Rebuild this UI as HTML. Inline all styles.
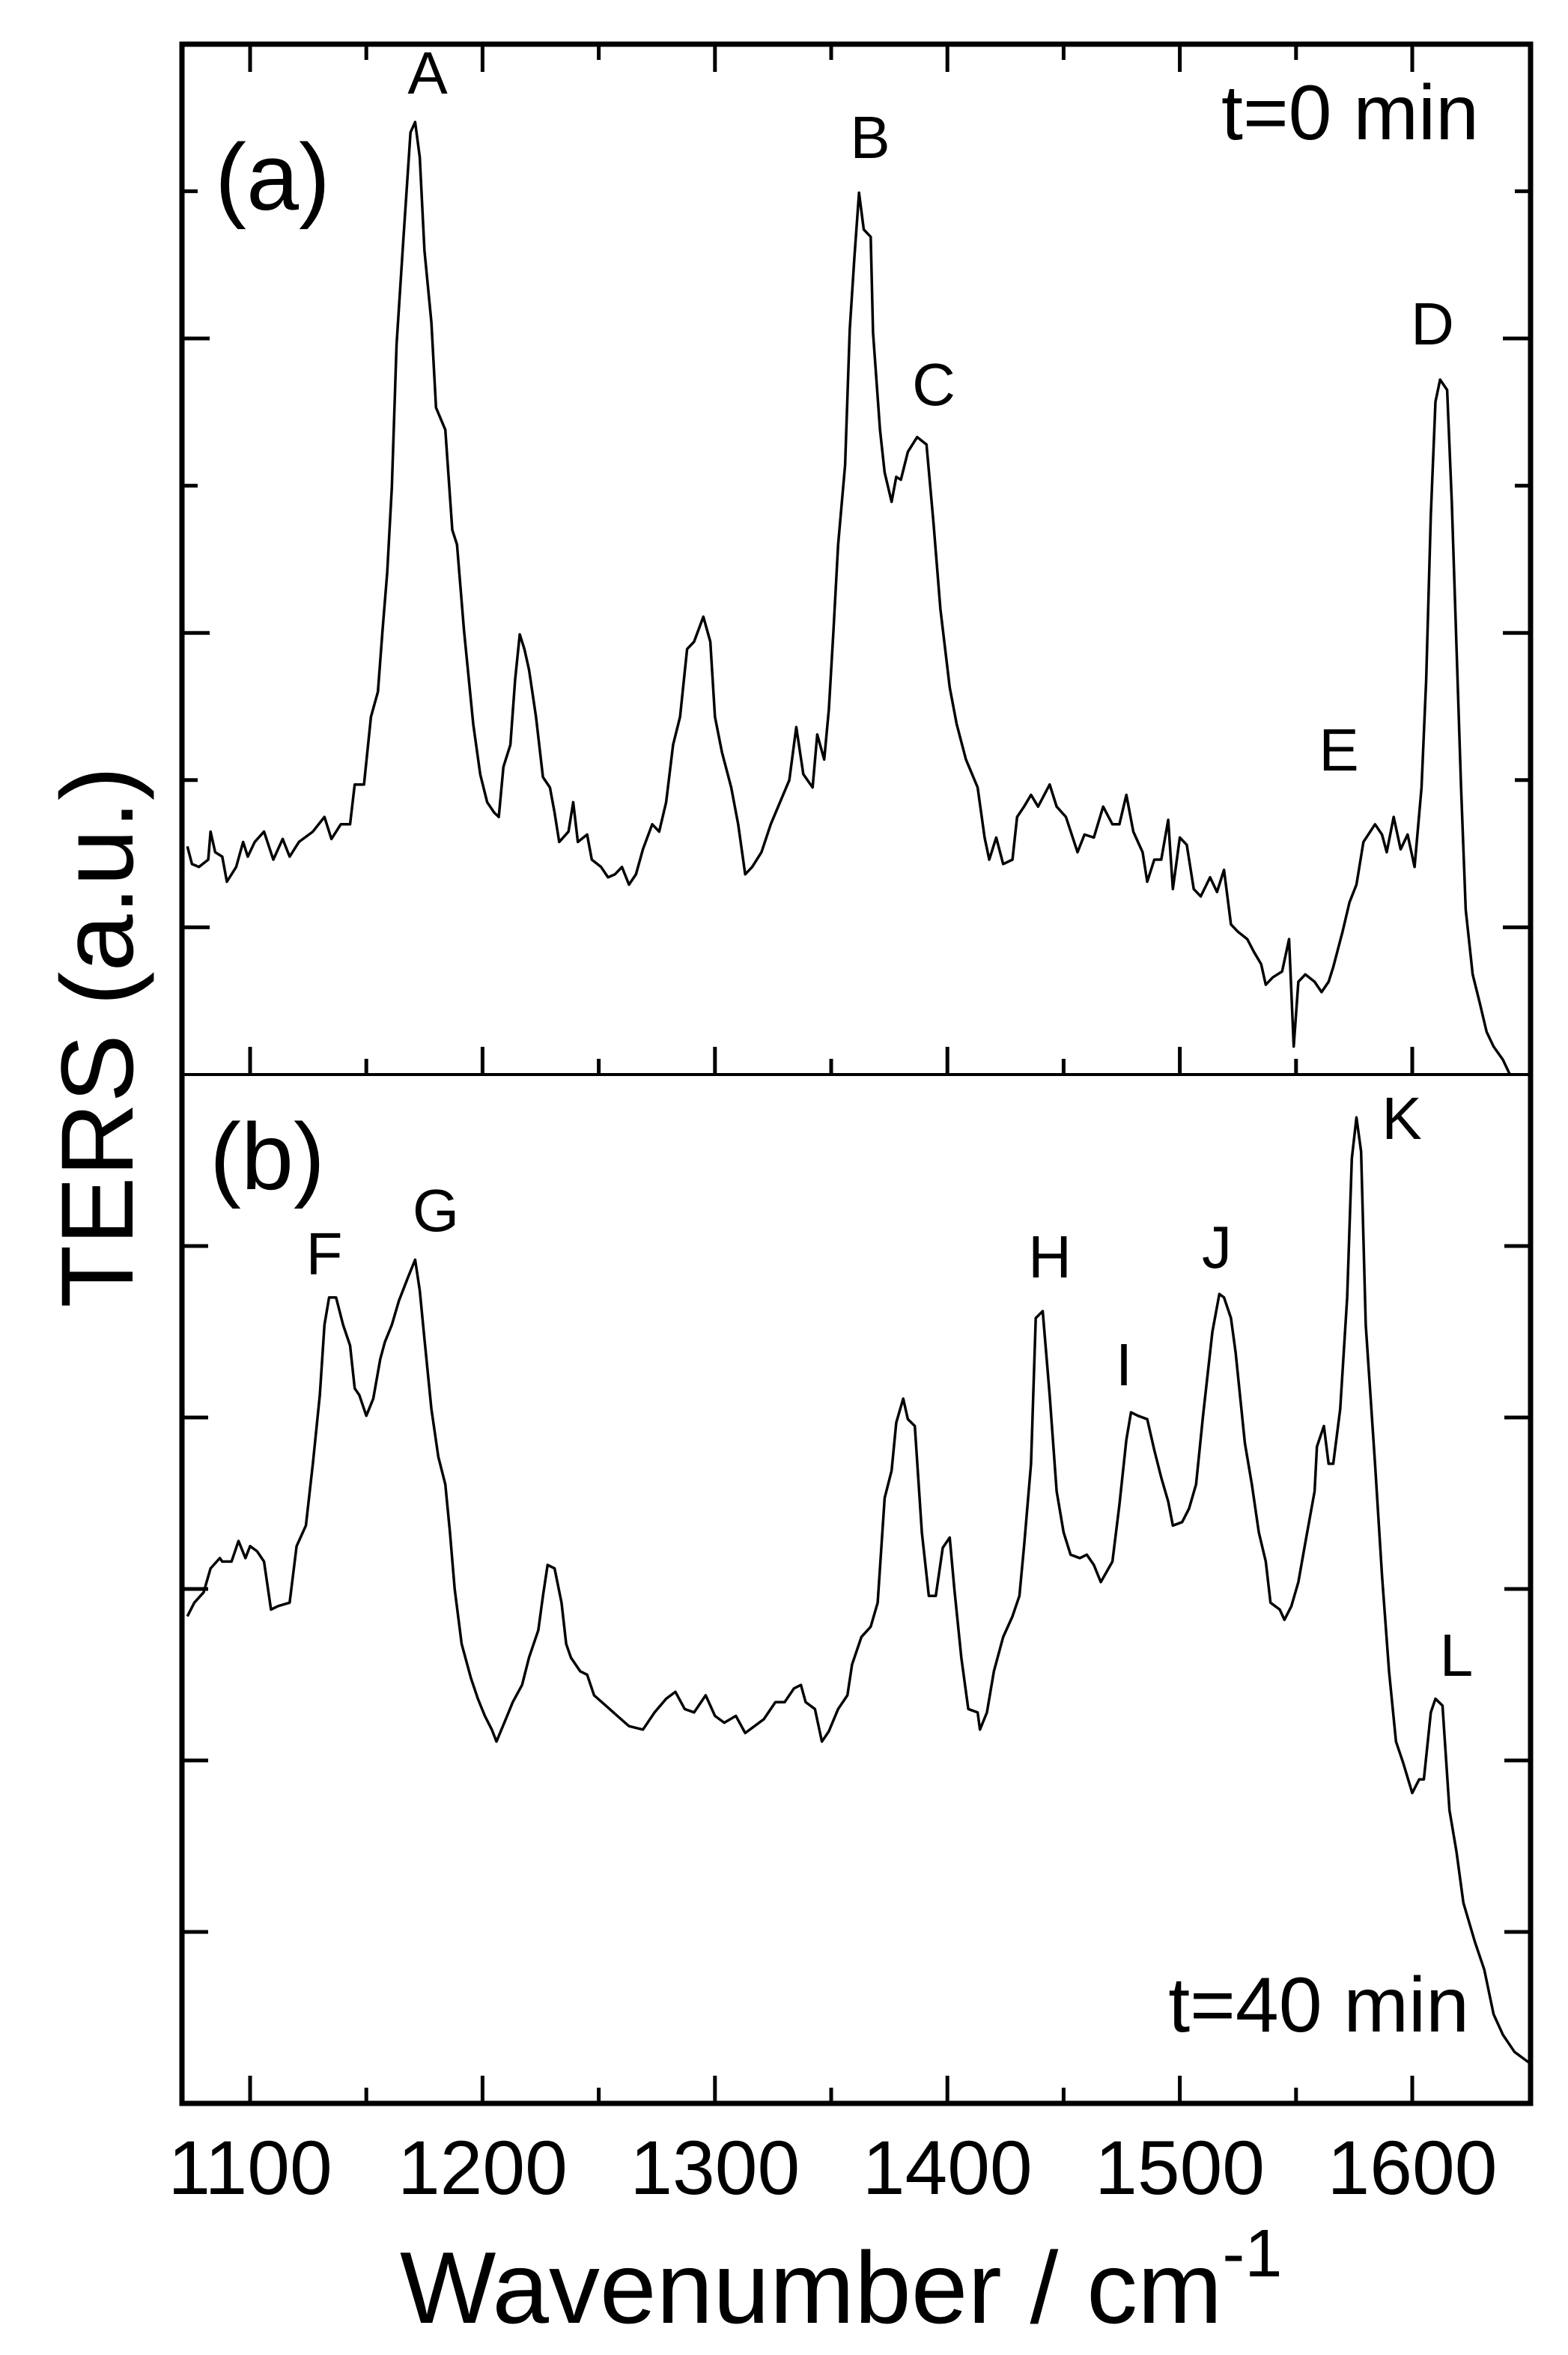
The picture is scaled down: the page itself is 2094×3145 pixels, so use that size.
<!DOCTYPE html>
<html><head><meta charset="utf-8"><style>
html,body{margin:0;padding:0;background:#fff;}
svg{display:block;}
text{font-family:"Liberation Sans",sans-serif;fill:#000;}
</style></head><body>
<svg id="chart" width="2094" height="3145" viewBox="0 0 2094 3145" xmlns="http://www.w3.org/2000/svg">
<g id="axes"></g>
<g id="series"></g>
<g id="labels">
<text x="364" y="280" font-size="126" text-anchor="middle">(a)</text>
<text x="357" y="1588" font-size="126" text-anchor="middle">(b)</text>
<text x="1975" y="186" font-size="104" text-anchor="end">t=0 min</text>
<text x="1962" y="2713" font-size="104" text-anchor="end">t=40 min</text>
<text transform="translate(177,1385) rotate(-90)" font-size="137" text-anchor="middle">TERS (a.u.)</text>
<text x="534" y="3102" font-size="136">Wavenumber / cm<tspan font-size="90" dy="-62">-1</tspan></text>
</g>
</svg>
<script>
const wnA=[1073,1075,1078,1082,1083,1085,1088,1090,1094,1097,1099,1102,1106,1110,1114,1117,1121,1127,1132,1135,1139,1143,1145,1149,1152,1155,1157,1159,1161,1163,1166,1169,1171,1173,1175,1178,1180,1184,1187,1189,1192,1196,1199,1202,1205,1207,1209,1212,1214,1216,1218,1220,1223,1226,1229,1231,1233,1237,1239,1241,1245,1247,1251,1254,1257,1260,1263,1266,1269,1273,1276,1279,1282,1285,1288,1291,1295,1298,1300,1303,1307,1310,1313,1316,1320,1324,1328,1332,1335,1338,1342,1344,1347,1349,1351,1353,1356,1358,1360,1362,1364,1367,1368,1371,1373,1376,1378,1380,1383,1387,1391,1394,1397,1401,1404,1408,1413,1416,1418,1421,1424,1428,1430,1433,1436,1439,1444,1447,1451,1456,1459,1463,1467,1471,1474,1477,1480,1484,1486,1489,1492,1495,1497,1500,1503,1506,1509,1513,1516,1519,1522,1525,1529,1532,1535,1537,1540,1544,1547,1549,1551,1554,1558,1561,1564,1566,1570,1573,1576,1579,1584,1587,1589,1592,1595,1598,1601,1604,1606,1608,1610,1612,1615,1617,1619,1621,1623,1626,1629,1632,1635,1639,1642];
const valA=[1.55,1.43,1.41,1.46,1.65,1.51,1.48,1.31,1.41,1.58,1.48,1.58,1.65,1.46,1.60,1.48,1.58,1.65,1.75,1.60,1.70,1.70,1.97,1.97,2.43,2.60,3.02,3.41,3.99,4.96,5.69,6.40,6.47,6.23,5.60,5.11,4.53,4.38,3.70,3.60,3.02,2.38,2.04,1.85,1.78,1.75,2.09,2.24,2.68,2.99,2.89,2.75,2.43,2.02,1.95,1.78,1.58,1.65,1.85,1.58,1.63,1.46,1.41,1.34,1.36,1.41,1.29,1.36,1.53,1.70,1.65,1.85,2.24,2.43,2.89,2.94,3.11,2.94,2.43,2.19,1.95,1.70,1.36,1.41,1.51,1.70,1.85,2.00,2.36,2.04,1.95,2.31,2.14,2.48,3.02,3.60,4.14,5.06,5.55,5.99,5.74,5.69,5.04,4.38,4.09,3.89,4.06,4.04,4.23,4.33,4.28,3.75,3.16,2.63,2.38,2.14,1.95,1.61,1.46,1.61,1.43,1.46,1.75,1.82,1.90,1.82,1.97,1.82,1.75,1.51,1.63,1.61,1.82,1.70,1.70,1.90,1.65,1.51,1.31,1.46,1.46,1.73,1.26,1.61,1.56,1.26,1.21,1.34,1.24,1.39,1.02,0.97,0.92,0.83,0.75,0.61,0.66,0.70,0.92,0.19,0.63,0.68,0.63,0.56,0.63,0.73,0.97,1.17,1.29,1.58,1.70,1.63,1.51,1.75,1.53,1.63,1.41,1.95,2.68,3.80,4.57,4.72,4.65,3.89,2.92,1.95,1.12,0.68,0.49,0.29,0.19,0.10,0.0];
const wnB=[1073,1076,1080,1083,1087,1088,1092,1095,1098,1100,1103,1106,1109,1112,1117,1120,1124,1127,1130,1132,1134,1137,1140,1143,1145,1147,1150,1153,1156,1158,1161,1164,1168,1171,1173,1175,1178,1181,1184,1186,1188,1191,1195,1198,1201,1204,1206,1210,1213,1217,1220,1224,1226,1228,1231,1234,1236,1238,1242,1245,1248,1253,1258,1263,1269,1274,1279,1283,1287,1291,1296,1300,1304,1309,1313,1317,1321,1326,1330,1334,1337,1339,1343,1346,1349,1353,1357,1359,1363,1367,1370,1373,1376,1378,1381,1383,1386,1389,1392,1395,1398,1401,1403,1406,1409,1413,1414,1417,1420,1424,1428,1431,1433,1436,1438,1441,1444,1447,1450,1453,1457,1460,1463,1466,1471,1474,1477,1479,1482,1486,1489,1492,1495,1497,1501,1504,1507,1510,1514,1517,1519,1522,1524,1528,1531,1534,1537,1539,1543,1545,1548,1551,1554,1558,1559,1562,1564,1566,1569,1572,1574,1576,1578,1580,1584,1587,1590,1593,1596,1600,1603,1605,1608,1610,1613,1616,1619,1622,1627,1631,1635,1639,1644,1650];
const valB=[2.84,2.92,2.98,3.12,3.18,3.16,3.16,3.28,3.18,3.25,3.22,3.16,2.88,2.90,2.92,3.25,3.37,3.73,4.13,4.54,4.70,4.70,4.54,4.42,4.17,4.13,4.01,4.11,4.34,4.44,4.54,4.68,4.82,4.92,4.74,4.46,4.05,3.77,3.61,3.33,3.00,2.68,2.48,2.36,2.26,2.18,2.11,2.24,2.34,2.44,2.60,2.76,2.96,3.14,3.12,2.92,2.68,2.60,2.52,2.50,2.38,2.32,2.26,2.20,2.18,2.28,2.36,2.40,2.30,2.28,2.38,2.26,2.22,2.26,2.16,2.20,2.24,2.34,2.34,2.42,2.44,2.34,2.30,2.11,2.17,2.30,2.38,2.56,2.72,2.78,2.92,3.53,3.69,3.97,4.11,3.99,3.95,3.33,2.96,2.96,3.24,3.30,3.00,2.60,2.30,2.28,2.18,2.28,2.52,2.72,2.84,2.96,3.25,3.73,4.58,4.62,4.13,3.57,3.33,3.20,3.18,3.20,3.14,3.04,3.16,3.49,3.87,4.03,4.01,3.99,3.81,3.65,3.51,3.37,3.39,3.47,3.61,4.01,4.50,4.72,4.70,4.58,4.38,3.85,3.61,3.33,3.16,2.92,2.88,2.82,2.90,3.04,3.27,3.57,3.83,3.95,3.73,3.73,4.05,4.70,5.51,5.75,5.55,4.54,3.73,3.08,2.52,2.11,1.99,1.81,1.89,1.89,2.28,2.36,2.32,1.71,1.47,1.17,0.94,0.78,0.52,0.40,0.30,0.24];
const xTickVals=[1100,1150,1200,1250,1300,1350,1400,1450,1500,1550,1600];
const xTickLabels=["1100","1200","1300","1400","1500","1600"];
const yTicksA=[1,2,3,4,5,6];
const yTicksB=[1,2,3,4,5];
const peakLabels=["A","B","C","D","E","F","G","H","I","J","K","L"];

const NS="http://www.w3.org/2000/svg";
const L=243,R=2044,TOP=59,MID=1435,BOT=2809;
function X(w){return 334+(w-1100)*3.104;}
function YA(v){return MID-v*196.6;}
function YB(v){return BOT-v*229;}
const axes=document.getElementById('axes');
const series=document.getElementById('series');
const labels=document.getElementById('labels');
function mk(tag,attrs,parent){const e=document.createElementNS(NS,tag);for(const k in attrs)e.setAttribute(k,attrs[k]);parent.appendChild(e);return e;}

let f=mk('rect',{x:L,y:TOP,width:R-L,height:BOT-TOP,fill:'none',stroke:'#000','stroke-width':7},axes);


let d=mk('line',{x1:L,x2:R,y1:MID,y2:MID,stroke:'#000','stroke-width':4},axes);



xTickVals.forEach(w=>{
  const len=(w%100===0)?37:21;
  [[TOP,1],[MID,-1],[BOT,-1]].forEach(([y,dir])=>{
    const t=mk('line',{x1:X(w),x2:X(w),y1:y,y2:y+dir*len,stroke:'#000','stroke-width':5},axes);
    
    
  });
});
xTickLabels.forEach(s=>{
  const t=mk('text',{x:X(+s),y:2930,'font-size':102,'text-anchor':'middle'},axes);
  t.textContent=s;
  
  
});
yTicksA.forEach(v=>{
  const len=(v%2===0)?21:37;
  [[L,1],[R,-1]].forEach(([x,dir])=>{
    const t=mk('line',{x1:x,x2:x+dir*len,y1:YA(v),y2:YA(v),stroke:'#000','stroke-width':5},axes);
    
    
  });
});
yTicksB.forEach(v=>{
  [[L,1],[R,-1]].forEach(([x,dir])=>{
    const t=mk('line',{x1:x,x2:x+dir*35,y1:YB(v),y2:YB(v),stroke:'#000','stroke-width':5},axes);
    
    
  });
});
function path(ws,vs,Y){return ws.map((w,i)=>(i?'L':'M')+X(w).toFixed(1)+','+Y(vs[i]).toFixed(1)).join(' ');}
const pa=mk('path',{d:path(wnA,valA,YA),fill:'none',stroke:'#000','stroke-width':3.5,'stroke-linejoin':'round'},series);


const pb=mk('path',{d:path(wnB,valB,YB),fill:'none',stroke:'#000','stroke-width':3.5,'stroke-linejoin':'round'},series);



const peakPos=[[571,125],[1162,211],[1247,541],[1913,460],[1788,1029],[433,1702],[582,1644],[1402,1706],[1501,1850],[1625,1693],[1872,1521],[1945,2238]];
peakLabels.forEach((s,i)=>{
  const t=mk('text',{x:peakPos[i][0],y:peakPos[i][1],'font-size':80,'text-anchor':'middle'},labels);
  t.textContent=s;
  
  
});
</script>
</body></html>
